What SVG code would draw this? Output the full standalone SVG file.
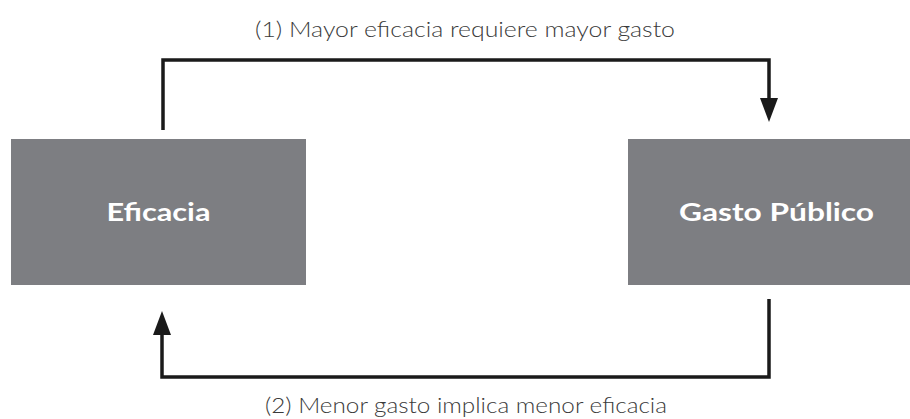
<svg xmlns="http://www.w3.org/2000/svg" width="910" height="419" viewBox="0 0 910 419">
<defs>
<style>
.box{fill:#7d7e82;}
.bt{font-family:Lato,"Open Sans","Liberation Sans",sans-serif;font-weight:bold;font-size:25px;fill:#ffffff;text-anchor:middle;}
.lbl{font-family:Lato,"Liberation Sans",sans-serif;font-weight:300;font-size:21px;fill:#3a3a3a;text-anchor:middle;}
.ln{fill:none;stroke:#1a1a1a;stroke-width:3.5;}
</style>
</defs>
<rect width="910" height="419" fill="#ffffff"/>
<g id="eficacia">
<rect class="box" x="11" y="139" width="295" height="146"/>
<text class="bt" x="158.5" y="221" textLength="104" lengthAdjust="spacingAndGlyphs">Eficacia</text>
</g>
<g id="gasto">
<rect class="box" x="628" y="139" width="282" height="146"/>
<text class="bt" x="776.5" y="221" textLength="195" lengthAdjust="spacingAndGlyphs">Gasto Público</text>
</g>
<g id="connectors">
<path class="ln" d="M163,130 V60 H769 V98" />
<path d="M760,98 L778,98 L769,122 Z" fill="#1a1a1a"/>
<path class="ln" d="M769,299 V377 H162 V335" />
<path d="M153,335 L171,335 L162,311 Z" fill="#1a1a1a"/>
<text class="lbl" x="465" y="37" textLength="420" lengthAdjust="spacingAndGlyphs">(1) Mayor eficacia requiere mayor gasto</text>
<text class="lbl" x="466" y="413" textLength="402" lengthAdjust="spacingAndGlyphs">(2) Menor gasto implica menor eficacia</text>
</g>
</svg>
